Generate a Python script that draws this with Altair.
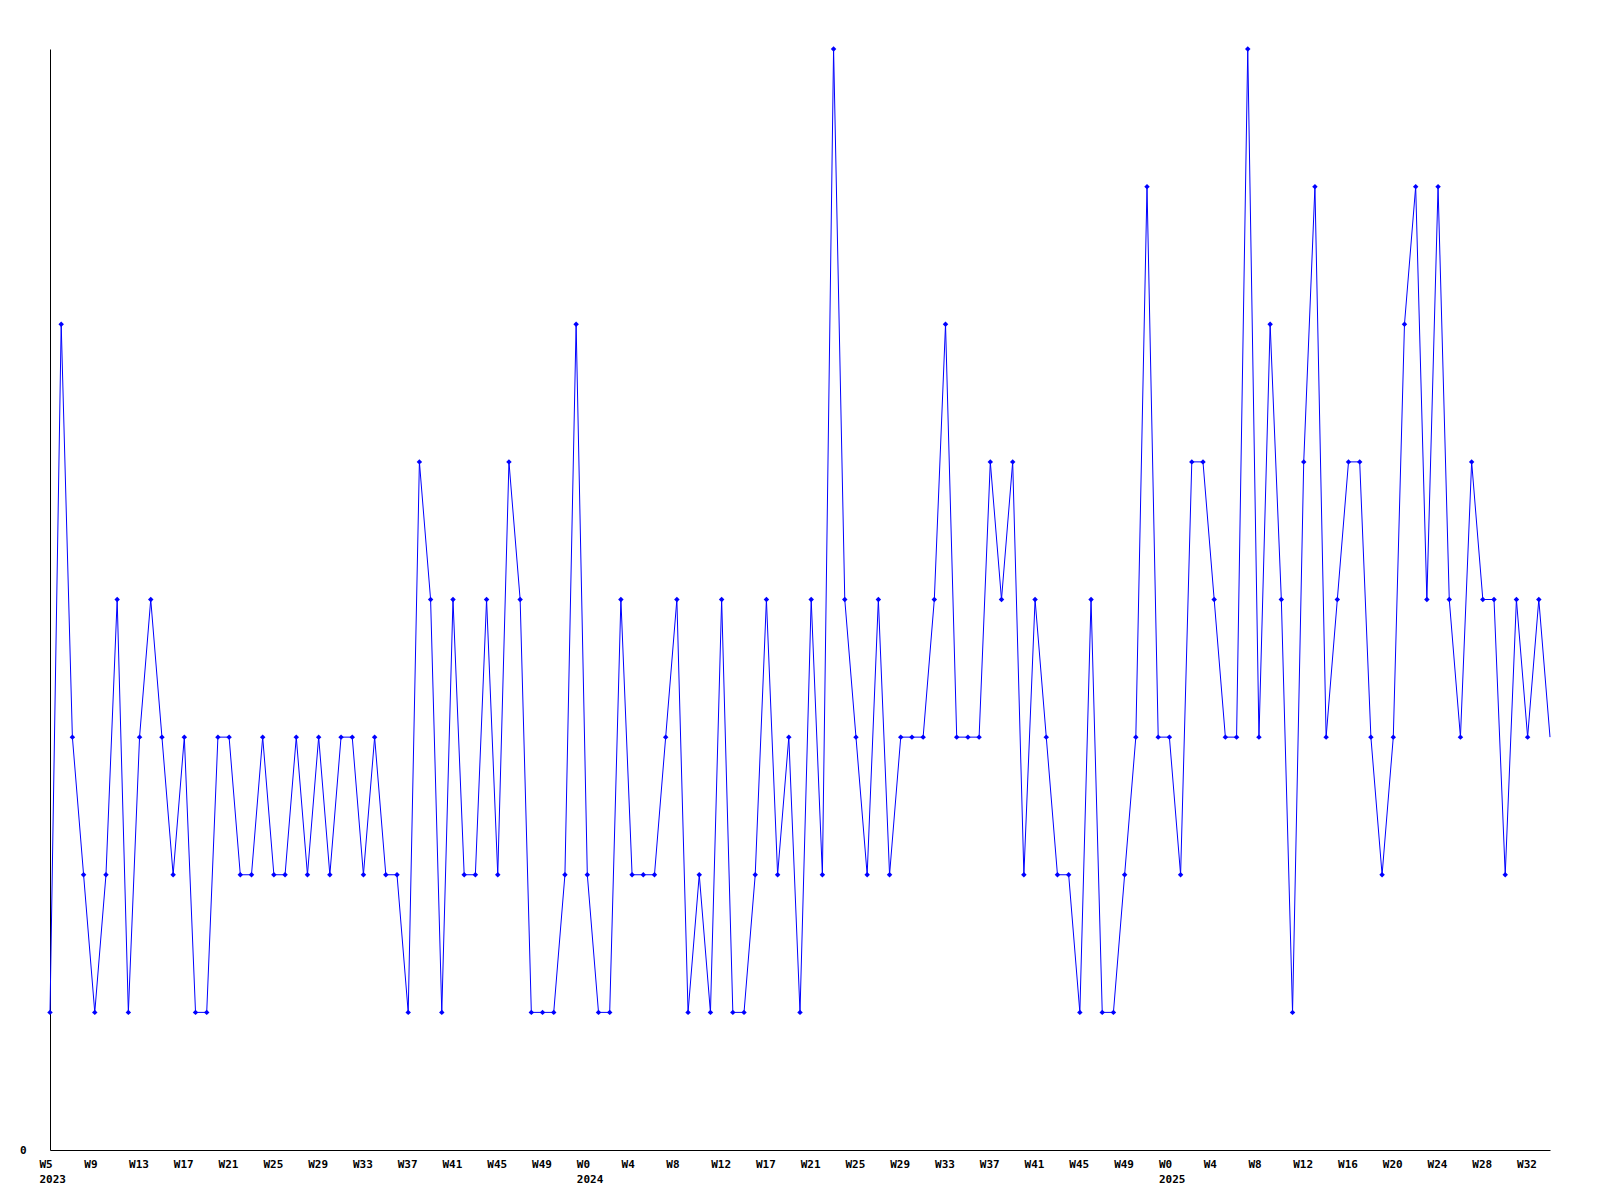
import altair as alt
import pandas as pd

# Weekly values (one per week, starting at 2023 W5)
values = [
    1, 6, 3, 2, 1, 2, 4, 1, 3, 4, 3, 2, 3, 1, 1, 3, 3, 2, 2, 3,
    2, 2, 3, 2, 3, 2, 3, 3, 2, 3, 2, 2, 1, 5, 4, 1, 4, 2, 2, 4,
    2, 5, 4, 1, 1, 1, 2, 6, 2, 1, 1, 4, 2, 2, 2, 3, 4, 1, 2, 1,
    4, 1, 1, 2, 4, 2, 3, 1, 4, 2, 8, 4, 3, 2, 4, 2, 3, 3, 3, 4,
    6, 3, 3, 3, 5, 4, 5, 2, 4, 3, 2, 2, 1, 4, 1, 1, 2, 3, 7, 3,
    3, 2, 5, 5, 4, 3, 3, 8, 3, 6, 4, 1, 5, 7, 3, 4, 5, 5, 3, 2,
    3, 6, 7, 4, 7, 4, 3, 5, 4, 4, 2, 4, 3, 4, 3,
]

# Tick labels every 4 weeks
week_labels = [
    "W5", "W9", "W13", "W17", "W21", "W25", "W29", "W33", "W37", "W41", "W45", "W49",
    "W0", "W4", "W8", "W12", "W17", "W21", "W25", "W29", "W33", "W37", "W41", "W45", "W49",
    "W0", "W4", "W8", "W12", "W16", "W20", "W24", "W28", "W32",
]
year_labels = {0: "2023", 12: "2024", 25: "2025"}

tick_values = [4 * i for i in range(len(week_labels))]

def js_str(s):
    return "'" + s + "'"

parts = []
for i, w in enumerate(week_labels):
    if i in year_labels:
        parts.append("[" + js_str(w) + "," + js_str(year_labels[i]) + "]")
    else:
        parts.append(js_str(w))
label_expr = "[" + ",".join(parts) + "][floor(datum.value / 4)]"

df = pd.DataFrame({"idx": list(range(len(values))), "value": values})
last_idx = len(values) - 1

FONT = "DejaVu Sans Mono"

x_enc = alt.X(
    "idx:Q",
    scale=alt.Scale(domain=[0, last_idx], nice=False, zero=False),
    axis=alt.Axis(
        values=tick_values,
        labelExpr=label_expr,
        title=None,
        ticks=False,
        grid=False,
        labelAlign="left",
        labelBaseline="top",
        labelOffset=-11,
        labelPadding=8,
        labelLineHeight=15,
        labelFont=FONT,
        labelFontSize=11,
        labelFontWeight="bold",
        labelColor="black",
        labelOverlap=False,
        labelFlush=False,
        domainColor="black",
        domainWidth=1,
    ),
)
y_enc = alt.Y(
    "value:Q",
    scale=alt.Scale(domain=[0, 8], nice=False),
    axis=alt.Axis(
        values=[0],
        format="d",
        title=None,
        ticks=False,
        grid=False,
        labelPadding=24,
        labelFont=FONT,
        labelFontSize=11,
        labelFontWeight="bold",
        labelColor="black",
        domainColor="black",
        domainWidth=1,
    ),
)

line = alt.Chart(df).mark_line(color="#0000ff", strokeWidth=1).encode(x=x_enc, y=y_enc)
points = (
    alt.Chart(df)
    .transform_filter(f"datum.idx < {last_idx}")
    .mark_point(shape="diamond", filled=True, size=30, color="#0000ff", opacity=1)
    .encode(x="idx:Q", y="value:Q")
)

chart = (
    alt.layer(line, points)
    .properties(
        width=1500,
        height=1101,
        padding={"left": 42, "top": 41, "right": 30, "bottom": 40},
        autosize=alt.AutoSizeParams(type="none"),
        background="white",
    )
    .configure_view(stroke=None)
)

chart.save("out.html", embed_options={"renderer": "svg", "actions": False})
